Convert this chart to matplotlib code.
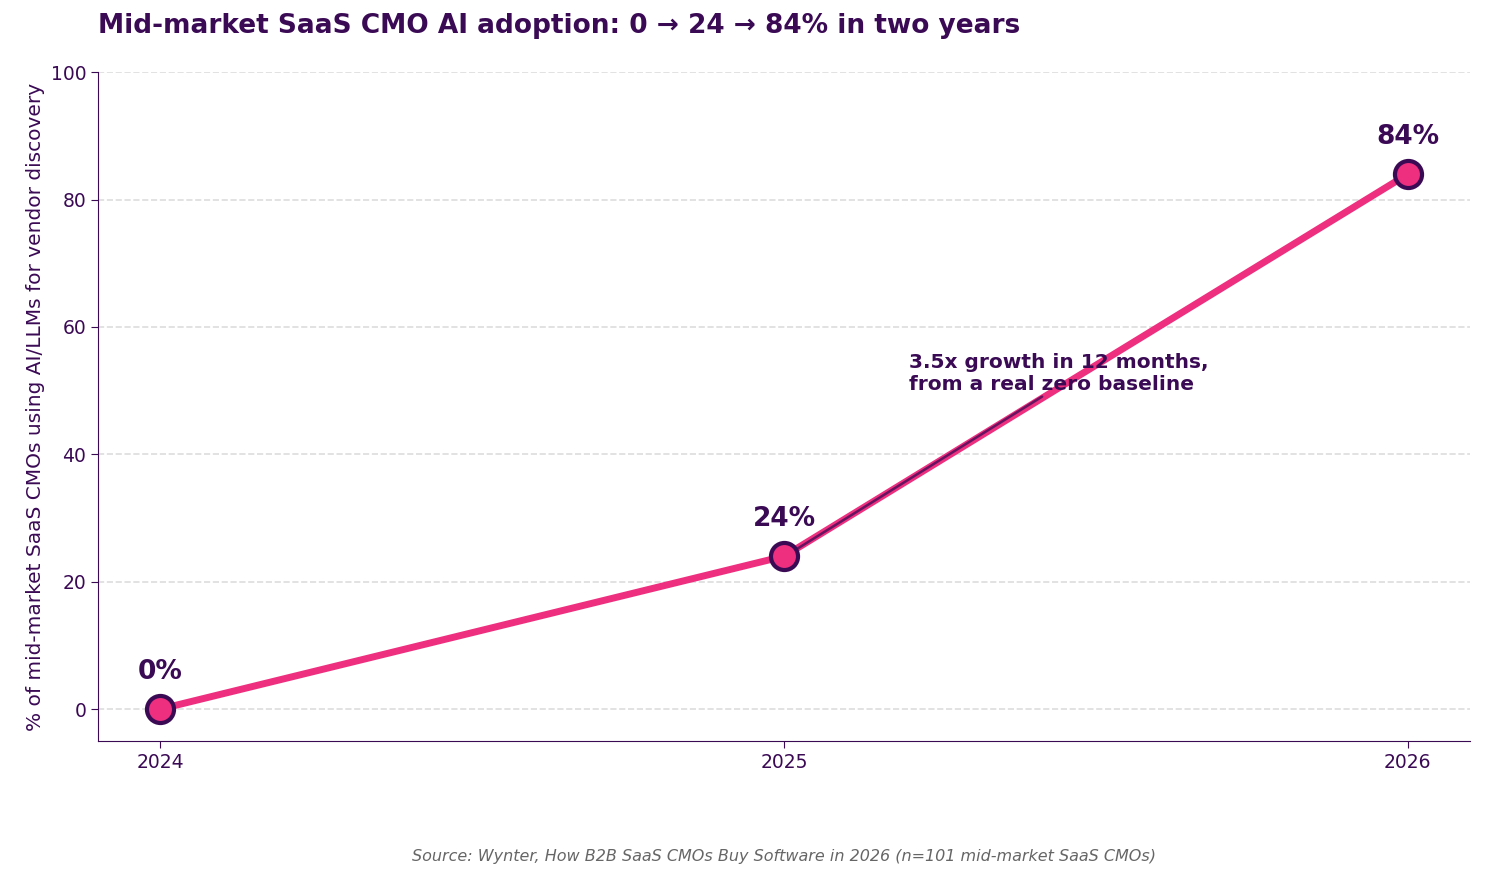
import matplotlib
matplotlib.use("Agg")
import matplotlib.pyplot as plt

years = [2024, 2025, 2026]
values = [0, 24, 84]
labels = ["0%", "24%", "84%"]

dark = "#3B0A55"
pink = "#EE2E7E"

fig = plt.figure(figsize=(14.85, 8.81), dpi=100)
ax = fig.add_axes([0.066, 0.159, 0.924, 0.759])
ax.plot(years, values, color=pink, lw=5, zorder=3, solid_capstyle="round")
ax.scatter(years, values, s=380, color=pink, edgecolor=dark, linewidth=3, zorder=4)
for x, v, l in zip(years, values, labels):
    ax.text(x, v + 3.8, l, ha="center", va="bottom", fontsize=19, fontweight="bold", color=dark)

ax.annotate("3.5x growth in 12 months,\nfrom a real zero baseline", xy=(2025.01, 24.5),
            xytext=(2025.2, 49.5), fontsize=14.5, fontweight="bold", color=dark,
            ha="left", va="bottom",
            arrowprops=dict(arrowstyle="-", color=dark, alpha=0.75, lw=1.8,
                            shrinkA=0, shrinkB=0, relpos=(0.46, 0.0)))

ax.set_xlim(2023.9, 2026.1)
ax.set_ylim(-5, 100)
ax.set_xticks(years)
ax.set_xticklabels([str(y) for y in years])
ax.set_yticks([0, 20, 40, 60, 80, 100])
ax.tick_params(colors=dark, labelsize=13.5, length=5)
ax.grid(axis="y", linestyle="--", color="#dddddd", lw=1.2)
ax.set_axisbelow(True)
for s in ["top", "right"]:
    ax.spines[s].set_visible(False)
for s in ["left", "bottom"]:
    ax.spines[s].set_color(dark)
ax.set_ylabel("% of mid-market SaaS CMOs using AI/LLMs for vendor discovery", fontsize=14.5, color=dark)
fig.text(0.066, 0.97, "Mid-market SaaS CMO AI adoption: 0 → 24 → 84% in two years",
         fontsize=19, fontweight="bold", color=dark, ha="left", va="center")
fig.text(0.528, 0.028, "Source: Wynter, How B2B SaaS CMOs Buy Software in 2026 (n=101 mid-market SaaS CMOs)",
         fontsize=11.5, style="italic", color="#666666", ha="center", va="center")
fig.savefig("out.png", dpi=100)
